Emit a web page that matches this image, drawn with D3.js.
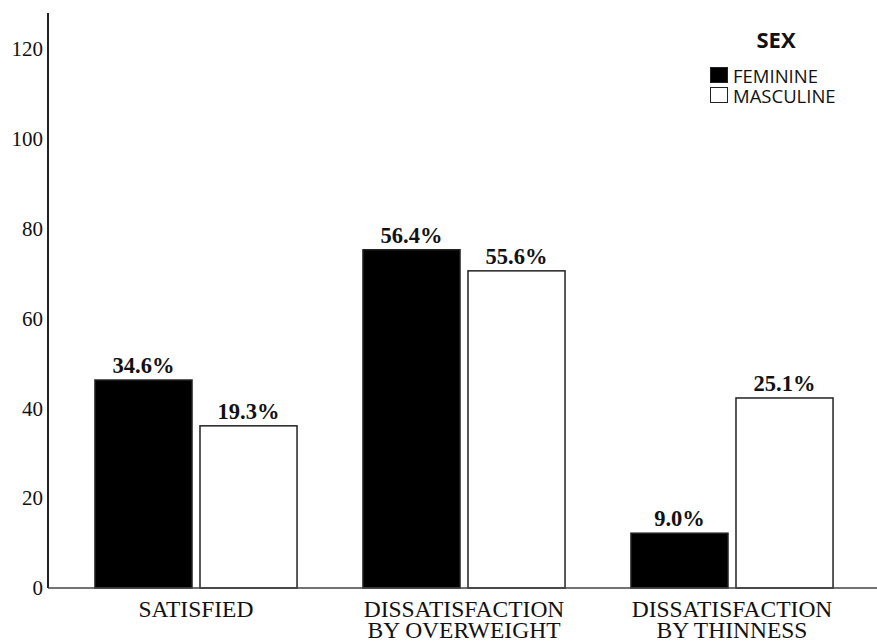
<!DOCTYPE html>
<html>
<head>
<meta charset="utf-8">
<script src="https://cdn.jsdelivr.net/npm/d3@7"></script>
<style>
  body { margin: 0; background: #fff; }
  svg { display: block; }
</style>
</head>
<body>
<svg width="877" height="642"></svg>
<script>
// data
const categories = [["SATISFIED"], ["DISSATISFACTION", "BY OVERWEIGHT"], ["DISSATISFACTION", "BY THINNESS"]];
const sexes = ["FEMININE", "MASCULINE"];
const feminine = [46.3, 75.3, 12.2];
const masculine = [36.1, 70.6, 42.3];
const femLabels = ["34.6%", "56.4%", "9.0%"];
const mascLabels = ["19.3%", "55.6%", "25.1%"];
const yTicks = [0, 20, 40, 60, 80, 100, 120];

let width = 877, height = 642;
let margin = { top: 13, right: 0, bottom: 54, left: 48 };

const rows = categories.map((c, i) => ({
    key: c.join(" "),
    lines: c,
    values: [
        { sex: sexes[0], value: feminine[i], label: femLabels[i] },
        { sex: sexes[1], value: masculine[i], label: mascLabels[i] }
    ]
}));

const svg = d3.select("svg");

const x0 = d3.scaleBand()
    .domain(rows.map(d => d.key))
    .range([62, 866])
    .paddingInner(0.246)
    .paddingOuter(0.123);

const x1 = d3.scaleBand()
    .domain(sexes)
    .range([0, x0.bandwidth()])
    .paddingInner(0.076);

const y = d3.scaleLinear()
    .domain([0, 128])
    .range([height - margin.bottom, margin.top]);

const color = d3.scaleOrdinal().domain(sexes).range(["#000", "#fff"]);

// bars
const groups = svg.append("g")
    .selectAll("g")
    .data(rows)
    .join("g")
    .attr("transform", d => "translate(" + x0(d.key) + ",0)");

groups.selectAll("rect")
    .data(d => d.values)
    .join("rect")
    .attr("x", d => x1(d.sex))
    .attr("y", d => y(d.value))
    .attr("width", x1.bandwidth())
    .attr("height", d => y(0) - y(d.value))
    .attr("fill", d => color(d.sex))
    .attr("stroke", "#222")
    .attr("stroke-width", 1.5);

groups.selectAll("text.val")
    .data(d => d.values)
    .join("text")
    .attr("class", "val")
    .attr("x", d => x1(d.sex) + x1.bandwidth() / 2)
    .attr("y", d => y(d.value) - 7)
    .attr("text-anchor", "middle")
    .attr("font-family", "'Liberation Serif', 'Times New Roman', serif")
    .attr("font-weight", "bold")
    .attr("font-size", 22.5)
    .attr("fill", "#111")
    .text(d => d.label);

// y axis
const yAxis = svg.append("g")
    .attr("transform", "translate(" + margin.left + ",0)")
    .call(d3.axisLeft(y).tickValues(yTicks).tickSize(0).tickPadding(5))
    .call(g => g.select(".domain").attr("d", "M0," + y(128) + "V" + y(0)).attr("stroke", "#222").attr("stroke-width", 2));
yAxis.selectAll("text")
    .attr("font-family", "'Liberation Serif', 'Times New Roman', serif")
    .attr("font-size", 21)
    .attr("fill", "#111");

// x axis
const xAxis = svg.append("g")
    .attr("transform", "translate(0," + y(0) + ")");
xAxis.append("line")
    .attr("x1", margin.left)
    .attr("x2", width)
    .attr("stroke", "#444")
    .attr("stroke-width", 1.5);
xAxis.selectAll("text")
    .data(rows)
    .join("text")
    .attr("x", d => x0(d.key) + x0.bandwidth() / 2)
    .attr("y", 29)
    .attr("text-anchor", "middle")
    .attr("font-family", "'Liberation Serif', 'Times New Roman', serif")
    .attr("font-size", 23.5)
    .attr("fill", "#111")
    .selectAll("tspan")
    .data(d => d.lines)
    .join("tspan")
    .attr("x", function () { return d3.select(this.parentNode).attr("x"); })
    .attr("dy", (d, i) => i ? 21 : 0)
    .text(d => d);

// legend
const legend = svg.append("g").attr("transform", "translate(710,0)");
legend.append("text")
    .attr("x", 66)
    .attr("y", 48)
    .attr("text-anchor", "middle")
    .attr("font-family", "'Open Sans', sans-serif")
    .attr("font-weight", "bold")
    .attr("font-size", 22)
    .attr("fill", "#111")
    .text("SEX");
const items = legend.selectAll("g.item")
    .data(sexes)
    .join("g")
    .attr("class", "item")
    .attr("transform", (d, i) => "translate(0," + (67 + i * 20) + ")");
items.append("rect")
    .attr("x", 0.5)
    .attr("y", 0.5)
    .attr("width", 17)
    .attr("height", 15)
    .attr("fill", d => color(d))
    .attr("stroke", "#222")
    .attr("stroke-width", 1);
items.append("text")
    .attr("x", 23)
    .attr("y", 16)
    .attr("font-family", "'Open Sans', sans-serif")
    .attr("font-size", 18.5)
    .attr("fill", "#111")
    .text(d => d);
</script>
</body>
</html>
